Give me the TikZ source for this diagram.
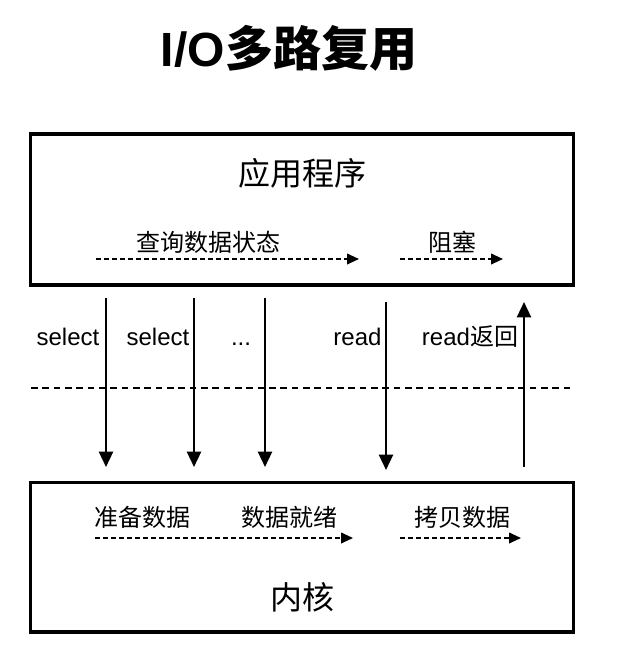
\documentclass[tikz,border=0pt]{standalone}
\usepackage{fontspec}
\setmainfont{Liberation Sans}
\newfontfamily\cjk{Noto Sans CJK SC}
\usetikzlibrary{arrows.meta}
\tikzset{
  iobox/.style={draw, line width=2.5pt, minimum width=407pt, inner sep=0pt},
  boxname/.style={font=\cjk\fontsize{24pt}{28pt}\selectfont},
  steptext/.style={font=\cjk\fontsize{18pt}{22pt}\selectfont},
  calltext/.style={font=\fontsize{18pt}{22pt}\selectfont, anchor=base},
  syscall/.style={-{Triangle[length=11.5pt, width=10.5pt]}, line width=1.8pt},
  waitflow/.style={-{Triangle[length=9pt, width=8pt]}, line width=1.4pt, dash pattern=on 3.5pt off 2.5pt},
  divider/.style={line width=1.2pt, dash pattern=on 5pt off 3.5pt}
}
\begin{document}
\begin{tikzpicture}[x=0.75pt, y=-0.75pt]
  \useasboundingbox (0,0) rectangle (622,649);
  \node (title) at (289,48) {\fontsize{36pt}{40pt}\selectfont\bfseries I/O{\cjk 多路复用}};

  \node[iobox, minimum height=113pt] (app) at (302,209.5) {};
  \node[iobox, minimum height=112pt] (kernel) at (302,557.3) {};
  \node[boxname] (appname) at (302,173) {应用程序};
  \node[boxname] (kernelname) at (302.5,597) {内核};

  % user space
  \node[steptext] (query) at (208.5,242) {查询数据状态};
  \node[steptext] (block) at (452,242) {阻塞};
  \coordinate (q0) at (96,259);
  \coordinate (q1) at (359,259);
  \coordinate (b0) at (400,259);
  \coordinate (b1) at (503,259);
  \draw[waitflow] (q0) -- (q1);
  \draw[waitflow] (b0) -- (b1);

  % kernel space
  \node[steptext] (prepare) at (142.5,517) {准备数据};
  \node[steptext] (ready) at (289.5,517) {数据就绪};
  \node[steptext] (copy) at (462.5,517) {拷贝数据};
  \coordinate (p0) at (95,538);
  \coordinate (p1) at (353,538);
  \coordinate (c0) at (400,538);
  \coordinate (c1) at (521,538);
  \draw[waitflow] (p0) -- (p1);
  \draw[waitflow] (c0) -- (c1);

  % calls
  \coordinate (div0) at (31,388);
  \coordinate (div1) at (574,388);
  \draw[divider] (div0) -- (div1);
  \node[calltext] (sel1) at (68,345) {select};
  \node[calltext] (sel2) at (158,345) {select};
  \node[calltext] (more) at (241,345) {...};
  \node[calltext] (rd) at (357.5,345) {read};
  \node[calltext] (rdret) at (470,345) {read{\cjk 返回}};
  \coordinate (s1a) at (106,298);
  \coordinate (s1b) at (106,467);
  \coordinate (s2a) at (194,298);
  \coordinate (s2b) at (194,467);
  \coordinate (s3a) at (265,298);
  \coordinate (s3b) at (265,467);
  \coordinate (r1a) at (386,302);
  \coordinate (r1b) at (386,470);
  \coordinate (r2a) at (524,467);
  \coordinate (r2b) at (524,302);
  \draw[syscall] (s1a) -- (s1b);
  \draw[syscall] (s2a) -- (s2b);
  \draw[syscall] (s3a) -- (s3b);
  \draw[syscall] (r1a) -- (r1b);
  \draw[syscall] (r2a) -- (r2b);
\end{tikzpicture}
\end{document}
